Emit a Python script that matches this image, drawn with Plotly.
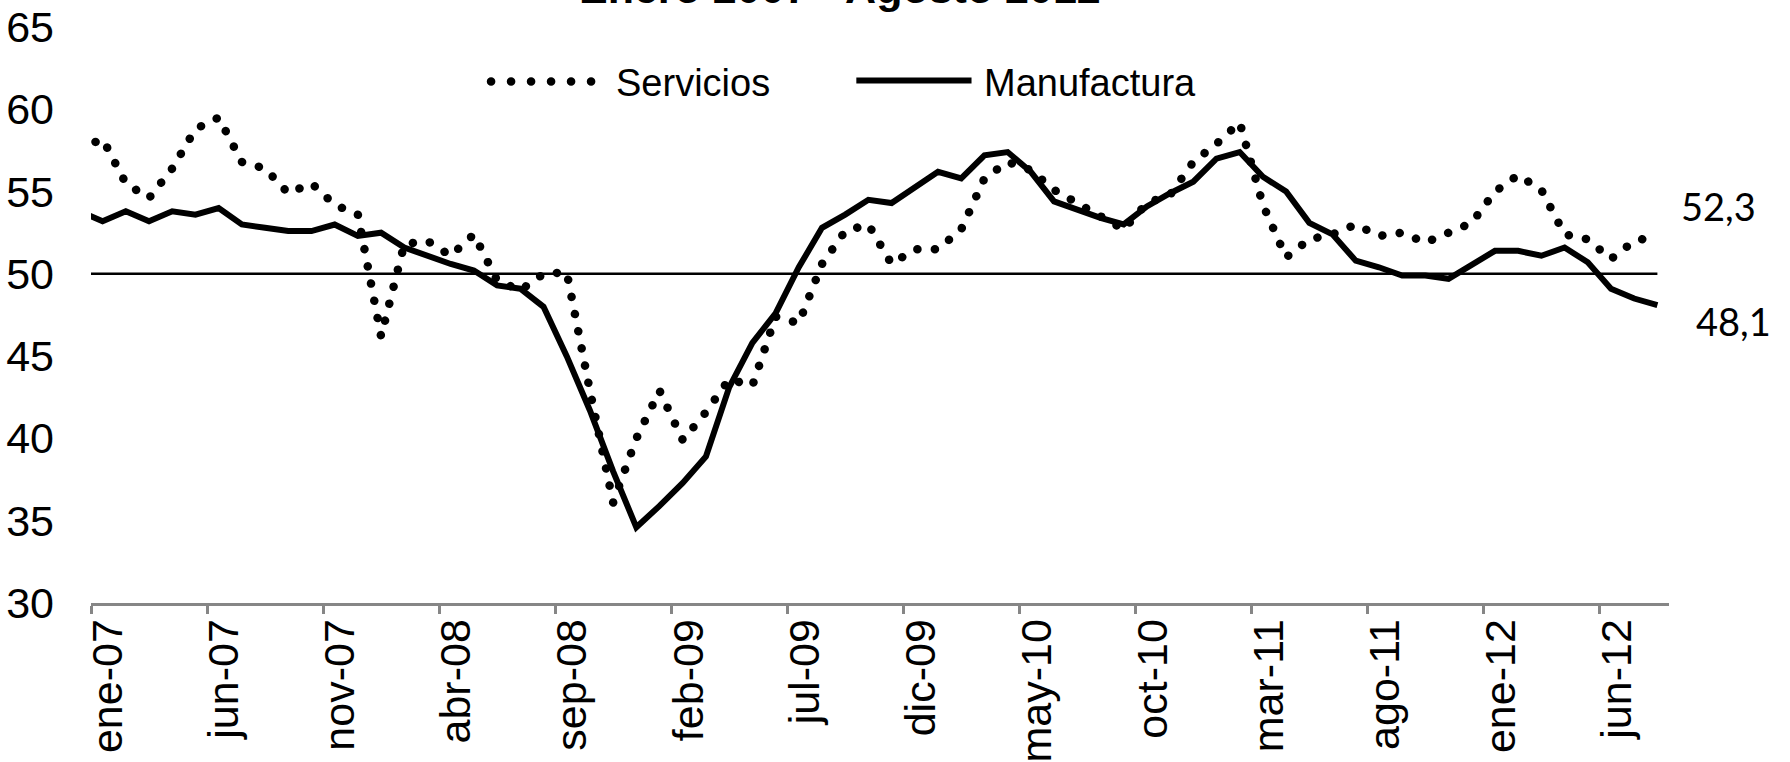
import plotly.graph_objects as go

# meses: dic-06 (recortado por el eje) y ene-07 .. ago-12
nombres = ["ene", "feb", "mar", "abr", "may", "jun", "jul", "ago", "sep", "oct", "nov", "dic"]
meses = ["dic-06"] + [f"{m}-{a:02d}" for a in range(7, 13) for m in nombres][:68]
posicion = list(range(-1, 68))

servicios = [57.6, 58.2, 55.5, 54.6, 56.4, 58.8, 59.5, 56.8, 56.4, 54.9,
             55.5, 54.2, 53.6, 46.2, 51.8, 52.0, 51.1, 52.4, 49.6, 49.0,
             50.0, 50.1, 42.9, 36.1, 40.0, 42.9, 39.9, 41.6, 43.6, 43.2,
             47.4, 47.0, 50.6, 52.6, 53.0, 50.6, 51.5, 51.5, 52.7, 55.8,
             56.8, 56.3, 55.1, 54.3, 53.6, 52.7, 54.3, 54.8, 56.8, 57.9,
             59.2, 54.2, 51.0, 52.1, 52.4, 53.0, 52.3, 52.5, 51.9, 52.5,
             53.1, 55.0, 56.0, 55.1, 52.4, 52.1, 50.9, 52.0, 52.3]
manufactura = [53.8, 53.2, 53.8, 53.2, 53.8, 53.6, 54.0, 53.0, 52.8, 52.6,
               52.6, 53.0, 52.3, 52.5, 51.6, 51.1, 50.6, 50.2, 49.3, 49.1,
               48.0, 45.0, 41.7, 38.0, 34.6, 35.9, 37.3, 38.9, 43.1, 45.8,
               47.6, 50.4, 52.8, 53.6, 54.5, 54.3, 55.3, 56.2, 55.8, 57.2,
               57.4, 56.2, 54.4, 53.9, 53.4, 53.0, 54.1, 54.9, 55.6, 57.0,
               57.4, 55.9, 55.0, 53.1, 52.4, 50.8, 50.4, 49.9, 49.9, 49.7,
               50.6, 51.4, 51.4, 51.1, 51.6, 50.7, 49.1, 48.5, 48.1]
umbral = 50

etiquetas = meses[1::5]
pos_etiquetas = posicion[1::5]

fuente = "Liberation Sans, Arial, sans-serif"

fig = go.Figure()
fig.add_trace(go.Scatter(x=[posicion[0], posicion[-1]], y=[umbral, umbral], mode="lines",
                         line=dict(color="black", width=2.5), showlegend=False))
fig.add_trace(go.Scatter(x=posicion, y=servicios, mode="lines", name="Servicios",
                         line=dict(color="black", width=8.5, dash="8px,9px"), showlegend=False))
fig.add_trace(go.Scatter(x=posicion, y=manufactura, mode="lines", name="Manufactura",
                         line=dict(color="black", width=6), showlegend=False))

# leyenda dibujada a mano (muestras largas como en el original)
fig.add_shape(type="line", xref="paper", yref="paper", x0=0.2535, x1=0.317, y0=0.9055, y1=0.9055,
              line=dict(color="black", width=8.5, dash="8px,12px"))
fig.add_shape(type="line", xref="paper", yref="paper", x0=0.485, x1=0.558, y0=0.907, y1=0.907,
              line=dict(color="black", width=6))
fig.add_annotation(text="Servicios", xref="paper", yref="paper", x=0.3315, y=0.903,
                   xanchor="left", yanchor="middle", showarrow=False,
                   font=dict(family=fuente, size=38, color="black"))
fig.add_annotation(text="Manufactura", xref="paper", yref="paper", x=0.5645, y=0.903,
                   xanchor="left", yanchor="middle", showarrow=False,
                   font=dict(family=fuente, size=38, color="black"))

# titulo recortado arriba
fig.add_annotation(text="<b>Enero 2007 - Agosto 2012</b>", xref="paper", yref="paper",
                   x=0.4745, y=1.022, xanchor="center", yanchor="bottom", showarrow=False,
                   font=dict(family=fuente, size=43, color="black"))

# ultimos valores
fig.add_annotation(text=f"{servicios[-1]:.1f}".replace(".", ","), x=posicion[-1], y=servicios[-1],
                   xanchor="left", yanchor="middle", xshift=22, yshift=30, showarrow=False,
                   font=dict(family="Lato, sans-serif", size=38, color="black"))
fig.add_annotation(text=f"{manufactura[-1]:.1f}".replace(".", ","), x=posicion[-1], y=manufactura[-1],
                   xanchor="left", yanchor="middle", xshift=37, yshift=-16, showarrow=False,
                   font=dict(family="Lato, sans-serif", size=38, color="black"))

fig.update_layout(
    width=1790, height=762,
    margin=dict(l=91, r=121, t=27, b=159),
    plot_bgcolor="white", paper_bgcolor="white",
    font=dict(family=fuente, color="black"),
)
fig.update_xaxes(
    range=[-0.5, 67.5], showgrid=False, zeroline=False, automargin=False,
    showline=True, linecolor="#868686", linewidth=3,
    tickmode="array", tickvals=[p + 0.25 for p in pos_etiquetas], ticktext=etiquetas, ticks="",
    tickangle=-90, tickfont=dict(family=fuente, size=43, color="black"),
    ticklabelstandoff=-4,
    minor=dict(tickmode="array", tickvals=[p - 0.5 for p in pos_etiquetas], ticks="outside",
               ticklen=8, tickwidth=3, tickcolor="#868686"),
)
fig.update_yaxes(
    range=[30, 65], dtick=5, showgrid=False, zeroline=False, showline=False, ticks="",
    automargin=False,
    tickfont=dict(family=fuente, size=43, color="black"), ticklabelstandoff=36,
)

redondear = """
document.body.style.margin = '0';
var gd = document.getElementById('{plot_id}');
function puntos() {
  gd.querySelectorAll('path').forEach(function (p) {
    var d = (p.style.strokeDasharray || '').replace(/\\s/g, '');
    if (d === '8px,9px') {
      p.style.strokeDasharray = '0.1px,17.4px';
      p.style.strokeLinecap = 'round';
    } else if (d === '8px,12px') {
      p.style.strokeDasharray = '0.1px,19.9px';
      p.style.strokeLinecap = 'round';
    }
  });
}
puntos();
gd.on('plotly_afterplot', puntos);
"""

fig.write_html("out.html", post_script=redondear, config={"displayModeBar": False})
